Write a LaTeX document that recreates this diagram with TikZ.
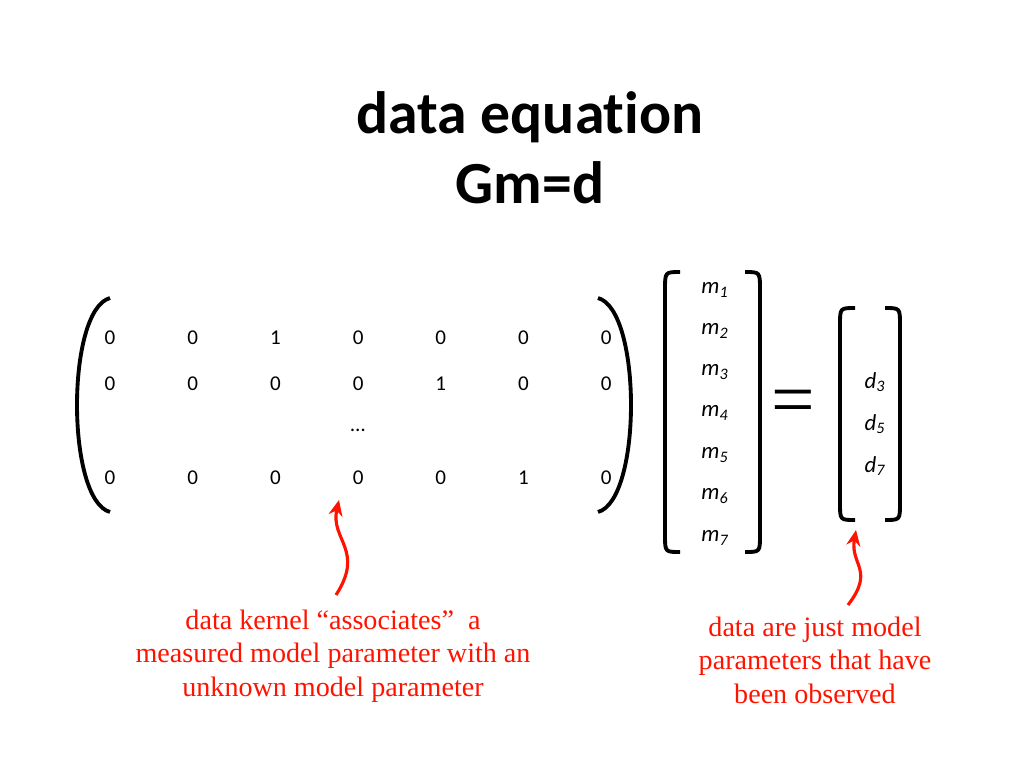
\documentclass[tikz,border=0pt]{standalone}
\usepackage{fontspec}
\setmainfont{Liberation Serif}
\newfontfamily\calfont[Ligatures=NoCommon]{Carlito}
\usetikzlibrary{positioning,arrows.meta}

\begin{document}
\begin{tikzpicture}[x=0.02cm,y=-0.02cm,
        every path/.style={line width=2.2pt},
        entry/.style={font=\calfont\fontsize{12}{14}\selectfont, inner sep=0pt},
        vent/.style={font=\calfont\itshape\fontsize{13}{15}\selectfont, inner sep=0pt},
        note/.style={text=red!85!orange, align=center, font=\fontsize{16}{19}\selectfont},
        redarrow/.style={draw=red!85!orange, line width=1.8pt, -{Stealth[length=9pt,width=8pt]}}
    ]
    \useasboundingbox (0,0) rectangle (1024,768);

    % Title
    \node (title) [align=center, font=\calfont\bfseries\fontsize{34}{40}\selectfont] at (530,148) {data equation\\Gm=d};

    % Matrix G
    \foreach \r/\y/\vals in {1/338/{0,0,1,0,0,0,0}, 2/384/{0,0,0,0,1,0,0}, 3/478/{0,0,0,0,0,1,0}} {
      \foreach \v [count=\c] in \vals {
        \node (g\r\c) [entry] at ({110+82.7*(\c-1)},\y) {\v};
      }
    }
    \node (gdots) [entry] at (358,430) {\dots};
    \draw (110,298) .. controls (66,310) and (66,500) .. (110,512);
    \draw (598,298) .. controls (642,310) and (642,500) .. (598,512);

    % Vector m
    \foreach \i/\y in {1/290,2/331,3/372,4/413,5/455,6/496,7/538} {
      \node (m\i) [vent] at (715,\y) {m\textsubscript{\i}};
    }
    \draw (680,272) .. controls (665,272) .. (665,290) -- (665,535) .. controls (665,552) .. (680,552);
    \draw (745,272) .. controls (760,272) .. (760,290) -- (760,535) .. controls (760,552) .. (745,552);

    \node (eq) [font=\fontsize{44}{44}\selectfont] at (793,408) {=};

    % Vector d
    \foreach \i/\y in {3/382,5/424,7/466} {
      \node (d\i) [vent] at (875,\y) {d\textsubscript{\i}};
    }
    \draw (855,308) .. controls (840,308) .. (840,325) -- (840,503) .. controls (840,520) .. (855,520);
    \draw (885,308) .. controls (900,308) .. (900,325) -- (900,503) .. controls (900,520) .. (885,520);

    % Notes
    \node (kernel) [note] at (333,656) {data kernel “associates”\ \ a\\measured model parameter with an\\unknown model parameter};
    \node (observed) [note] at (815,660) {data are just model\\parameters that have\\been observed};
    \coordinate (ktail) at (336,595);
    \coordinate (ktip) at (339,500);
    \coordinate (otail) at (848,605);
    \coordinate (otip) at (856,530);
    \draw[redarrow] (ktail) .. controls (365,550) and (330,540) .. (ktip);
    \draw[redarrow] (otail) .. controls (875,570) and (850,565) .. (otip);
\end{tikzpicture}
\end{document}
